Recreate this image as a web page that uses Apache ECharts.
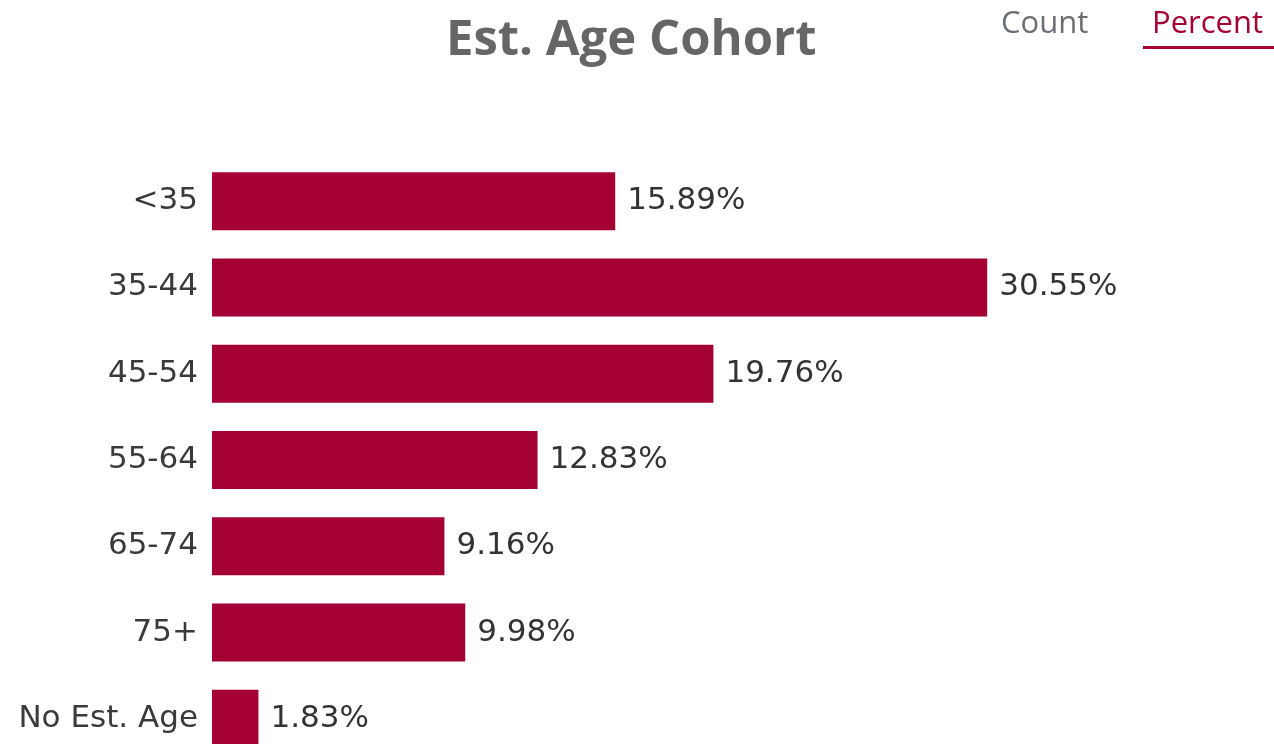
<!DOCTYPE html>
<html>
<head>
<meta charset="utf-8">
<script src="https://cdn.jsdelivr.net/npm/echarts@6/dist/echarts.min.js"></script>
<style>
html,body{margin:0;padding:0;background:#fff;}
#chart{width:1274px;height:744px;}
</style>
</head>
<body>
<div id="chart"></div>
<script>
var categories = ['<35', '35-44', '45-54', '55-64', '65-74', '75+', 'No Est. Age'];
var percentValues = [15.89, 30.55, 19.76, 12.83, 9.16, 9.98, 1.83];
var titleText = 'Est. Age Cohort';
var toggleLabels = ['Count', 'Percent'];

var chart = echarts.init(document.getElementById('chart'));
chart.setOption({
  animation: false,
  backgroundColor: '#ffffff',
  title: {
    text: titleText,
    left: 441,
    top: 12,
    textStyle: {fontFamily: 'Open Sans', fontWeight: 'bold', fontSize: 49, color: '#666666'}
  },
  graphic: [
    {type: 'text', left: 1001, top: 9, style: {text: toggleLabels[0], font: '31px "Open Sans"', fill: '#6b6f75'}},
    {type: 'text', left: 1152, top: 9, style: {text: toggleLabels[1], font: '31px "Open Sans"', fill: '#a50034'}},
    {type: 'rect', left: 1143, top: 46, shape: {width: 131, height: 3}, style: {fill: '#a50034'}}
  ],
  grid: {left: 212, top: 158, height: 604, right: 47, containLabel: false, outerBoundsMode: 'none'},
  xAxis: {
    type: 'value', min: 0, max: 40, show: false
  },
  yAxis: {
    type: 'category',
    data: categories,
    inverse: true,
    axisLine: {show: false},
    axisTick: {show: false},
    axisLabel: {fontFamily: 'DejaVu Sans', fontSize: 31, color: '#3a3a3a', margin: 14}
  },
  series: [{
    type: 'bar',
    data: percentValues,
    barWidth: 58,
    itemStyle: {color: '#a50034'},
    label: {
      show: true,
      position: 'right',
      distance: 12,
      fontFamily: 'DejaVu Sans',
      fontSize: 31,
      color: '#333333',
      formatter: function (p) { return p.value.toFixed(2) + '%'; }
    }
  }]
});
</script>
</body>
</html>
